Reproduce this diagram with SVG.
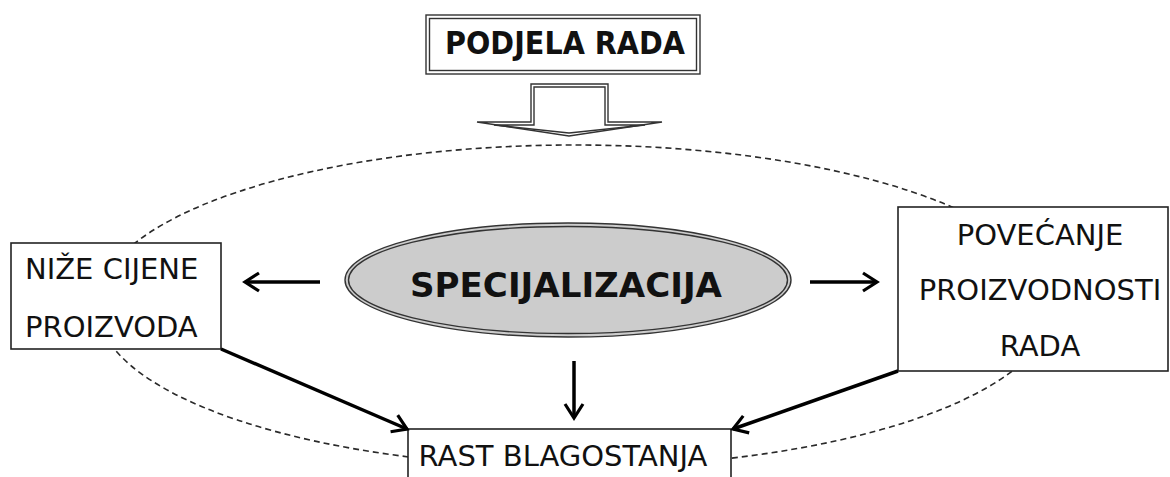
<svg xmlns="http://www.w3.org/2000/svg" width="1170" height="477" viewBox="0 0 1170 477">
<style>
.bg{fill:#ffffff}
.box{fill:#ffffff;stroke:#222222;stroke-width:1.6}
.dbl{fill:none;stroke:#333333;stroke-width:1.4}
.txt{font-family:"DejaVu Sans","Verdana",sans-serif;font-size:29px;fill:#111111}
.btxt{font-family:"DejaVu Sans","Verdana",sans-serif;font-weight:bold;fill:#111111}
.dash{fill:none;stroke:#2a2a2a;stroke-width:1.6;stroke-dasharray:6 4}
.conn{fill:none;stroke:#000000;stroke-width:3.5}
</style>
<defs>
<marker id="chev" viewBox="0 0 24 24" refX="19" refY="12" markerWidth="24" markerHeight="24" markerUnits="userSpaceOnUse" orient="auto">
<path d="M5,3 L19,12 L5,21" fill="none" stroke="#000000" stroke-width="3.2" stroke-linejoin="miter"/>
</marker>
</defs>
<rect class="bg" x="0" y="0" width="1170" height="477"/>
<g id="orbit">
<ellipse class="dash" cx="575" cy="306" rx="478" ry="161"/>
</g>
<g id="podjela-rada">
<rect x="426" y="15" width="274" height="59" fill="#ffffff" stroke="#333333" stroke-width="1.4"/>
<rect class="dbl" x="429.5" y="18.5" width="267" height="52"/>
<text class="btxt" x="565" y="54" font-size="32" text-anchor="middle" textLength="240" lengthAdjust="spacingAndGlyphs">PODJELA RADA</text>
</g>
<g id="block-arrow">
<polygon points="531,84 608,84 608,122 662,122 569,136 477,122 531,122" fill="#ffffff" stroke="#333333" stroke-width="1.4"/>
<polygon class="dbl" points="534,87 605,87 605,125 645,125 569,133 494,125 534,125"/>
</g>
<g id="specijalizacija">
<ellipse cx="568" cy="280" rx="223" ry="57" fill="#cccccc" stroke="#333333" stroke-width="1.4"/>
<ellipse class="dbl" cx="568" cy="280" rx="219.5" ry="53.5"/>
<text class="btxt" x="566" y="297" font-size="34" text-anchor="middle" textLength="312" lengthAdjust="spacingAndGlyphs">SPECIJALIZACIJA</text>
</g>
<g id="nize-cijene">
<rect class="box" x="11" y="243" width="210" height="106"/>
<text class="txt" x="25" y="279">NIŽE CIJENE</text>
<text class="txt" x="25" y="337">PROIZVODA</text>
</g>
<g id="povecanje">
<rect class="box" x="898" y="207" width="270" height="164"/>
<text class="txt" x="1040" y="245" text-anchor="middle">POVEĆANJE</text>
<text class="txt" x="1040" y="300" text-anchor="middle">PROIZVODNOSTI</text>
<text class="txt" x="1040" y="356" text-anchor="middle">RADA</text>
</g>
<g id="rast-blagostanja">
<rect class="box" x="408" y="429" width="323" height="60"/>
<text class="txt" x="563" y="466" text-anchor="middle">RAST BLAGOSTANJA</text>
</g>
<g id="connectors">
<line class="conn" x1="320" y1="282" x2="245" y2="282" marker-end="url(#chev)"/>
<line class="conn" x1="810" y1="282" x2="877" y2="282" marker-end="url(#chev)"/>
<line class="conn" x1="574" y1="361" x2="574" y2="418" stroke-width="3" marker-end="url(#chev)"/>
<line class="conn" x1="221" y1="349" x2="407" y2="429" stroke-width="3" marker-end="url(#chev)"/>
<line class="conn" x1="898" y1="371" x2="733" y2="429" stroke-width="3" marker-end="url(#chev)"/>
</g>
</svg>
